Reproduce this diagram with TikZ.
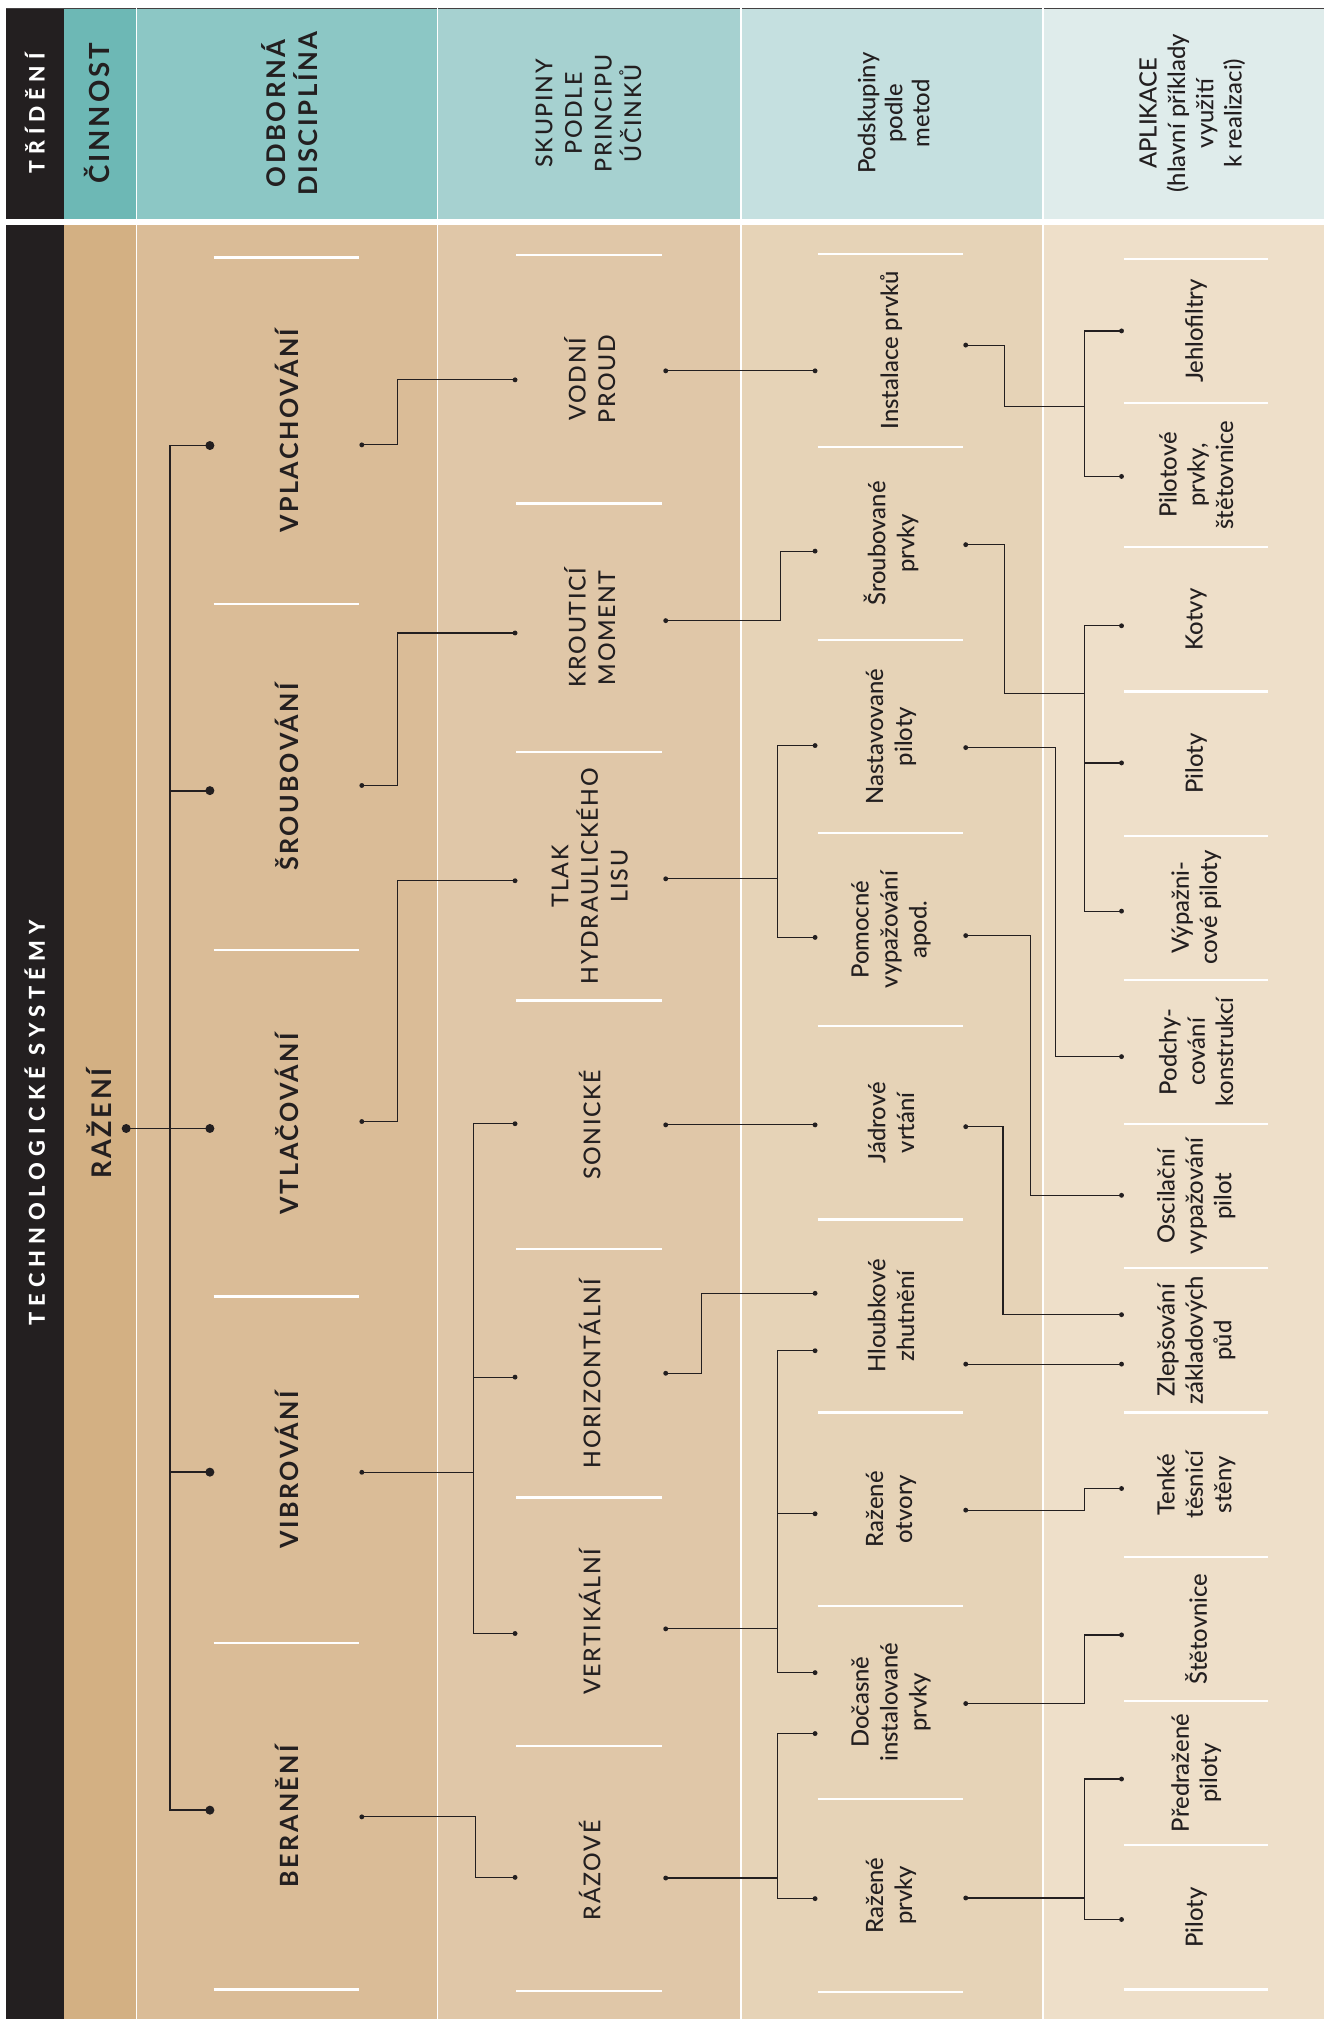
\documentclass[tikz,border=0pt]{standalone}
\usepackage{fontspec}
\setmainfont{Lato Medium}[BoldFont={Lato Bold}]
\newfontfamily\latotrack{Lato Medium}[BoldFont={Lato Bold}, LetterSpace=7]
\newfontfamily\latobold{Lato Bold}[LetterSpace=10]
\newfontfamily\latowide{Lato Heavy}[LetterSpace=28]
\usepackage{xcolor}
\definecolor{ink}{HTML}{231F20}
\definecolor{hcA}{HTML}{6DB8B5}
\definecolor{hcB}{HTML}{8CC7C5}
\definecolor{hcC}{HTML}{A6D1D0}
\definecolor{hcD}{HTML}{C5E0E0}
\definecolor{hcE}{HTML}{DFECEB}
\definecolor{bcA}{HTML}{D3B083}
\definecolor{bcB}{HTML}{DABC97}
\definecolor{bcC}{HTML}{E0C7A8}
\definecolor{bcD}{HTML}{E6D3B7}
\definecolor{bcE}{HTML}{EEDFC9}
\usepackage{tikz}

\begin{document}
\begin{tikzpicture}[
  x = 1pt, y = -1pt,
  lbl/.style     = {rotate=90, align=center, inner sep=0pt, text=ink},
  sidetxt/.style = {lbl, text=white, font=\latowide\fontsize{16.5}{20}\selectfont},
  acttxt/.style  = {lbl, font=\latobold\fontsize{21.5}{26}\selectfont},
  disctxt/.style = {lbl, font=\latobold\fontsize{19.5}{25}\selectfont},
  grptxt/.style  = {lbl, font=\latotrack\fontsize{18}{23}\selectfont},
  subtxt/.style  = {lbl, font=\fontsize{18.5}{22.5}\selectfont},
  apptxt/.style  = {lbl, font=\fontsize{18.5}{22}\selectfont},
  dotS/.style    = {circle, fill=ink, inner sep=0pt, minimum size=3.8pt},
  dotL/.style    = {circle, fill=ink, inner sep=0pt, minimum size=7pt},
  conn/.style    = {draw=ink, line width=0.9pt},
  trunk/.style   = {draw=ink, line width=1.4pt},
  sepline/.style = {white, line width=1.8pt},
  colsep/.style  = {white, line width=0.9pt},
]
\useasboundingbox (0,0) rectangle (1028,1568);
\fill[white] (0,0) rectangle (1028,1568);

% columns: header and body
\fill[ink] (5,6) rectangle (49.5,1568);
\fill[hcA] (49.5,6) rectangle (106,170);   \fill[bcA] (49.5,175) rectangle (106,1568);
\fill[hcB] (106,6) rectangle (340,170);    \fill[bcB] (106,175) rectangle (340,1568);
\fill[hcC] (340,6) rectangle (575.5,170);  \fill[bcC] (340,175) rectangle (575.5,1568);
\fill[hcD] (575.5,6) rectangle (810,170);  \fill[bcD] (575.5,175) rectangle (810,1568);
\fill[hcE] (810,6) rectangle (1028,170);   \fill[bcE] (810,175) rectangle (1028,1568);
\draw[ink!85, line width=1.2pt] (5,6.5) -- (1028,6.5);
\fill[white] (5,170) rectangle (1028,175);
\draw[colsep] (106,6) -- (106,1568);   \draw[colsep] (340,6) -- (340,1568);
\draw[colsep] (575.5,6) -- (575.5,1568); \draw[colsep] (810,6) -- (810,1568);

% separators between items
\draw[sepline] (166,200) -- (279,200);   \draw[sepline] (166,469) -- (279,469);
\draw[sepline] (166,738) -- (279,738);   \draw[sepline] (166,1007) -- (279,1007);
\draw[sepline] (166,1276) -- (279,1276); \draw[sepline] (166,1545) -- (279,1545);
\draw[sepline] (401,198) -- (514,198);   \draw[sepline] (401,391) -- (514,391);
\draw[sepline] (401,584) -- (514,584);   \draw[sepline] (401,777) -- (514,777);
\draw[sepline] (401,970) -- (514,970);   \draw[sepline] (401,1163) -- (514,1163);
\draw[sepline] (401,1356) -- (514,1356); \draw[sepline] (401,1546) -- (514,1546);
\draw[sepline] (635,197) -- (748,197);   \draw[sepline] (635,347) -- (748,347);
\draw[sepline] (635,497) -- (748,497);   \draw[sepline] (635,647) -- (748,647);
\draw[sepline] (635,797) -- (748,797);   \draw[sepline] (635,947) -- (748,947);
\draw[sepline] (635,1097) -- (748,1097); \draw[sepline] (635,1247) -- (748,1247);
\draw[sepline] (635,1397) -- (748,1397); \draw[sepline] (635,1547) -- (748,1547);
\draw[sepline] (873,201) -- (985,201);   \draw[sepline] (873,313) -- (985,313);
\draw[sepline] (873,425) -- (985,425);   \draw[sepline] (873,537) -- (985,537);
\draw[sepline] (873,649) -- (985,649);   \draw[sepline] (873,761) -- (985,761);
\draw[sepline] (873,873) -- (985,873);   \draw[sepline] (873,985) -- (985,985);
\draw[sepline] (873,1097) -- (985,1097); \draw[sepline] (873,1209) -- (985,1209);
\draw[sepline] (873,1321) -- (985,1321); \draw[sepline] (873,1433) -- (985,1433);
\draw[sepline] (873,1545) -- (985,1545);

% header row
\node[sidetxt] (hTrideni) at (27,88) {TŘÍDĚNÍ};
\node[acttxt]  (hCinnost) at (75.5,88) {ČINNOST};
\node[disctxt, font=\latobold\fontsize{20}{25}\selectfont] (hDisc) at (225,88) {ODBORNÁ\\DISCIPLÍNA};
\node[grptxt]  (hSkup) at (457,88) {SKUPINY\\PODLE\\PRINCIPU\\ÚČINKŮ};
\node[subtxt, font=\fontsize{18.5}{21}\selectfont] (hPodsk) at (694,88) {Podskupiny\\podle\\metod};
\node[apptxt]  (hApl) at (926,88) {APLIKACE\\(hlavní příklady\\využití\\k realizaci)};

% activity and disciplines
\node[sidetxt, font=\latowide\fontsize{17}{20}\selectfont] (sys) at (27,872) {TECHNOLOGICKÉ SYSTÉMY};
\node[acttxt, font=\latobold\fontsize{21}{26}\selectfont] (razeni) at (77,872.5) {RAŽENÍ};
\node[disctxt] (vplach) at (223,334.5)  {VPLACHOVÁNÍ};
\node[disctxt] (sroub)  at (223,603.5)  {ŠROUBOVÁNÍ};
\node[disctxt] (vtlac)  at (223,872.5)  {VTLAČOVÁNÍ};
\node[disctxt] (vibro)  at (223,1141.5) {VIBROVÁNÍ};
\node[disctxt] (beran)  at (223,1410.5) {BERANĚNÍ};

% groups
\node[grptxt] (vodni)  at (458,294.5)  {VODNÍ\\PROUD};
\node[grptxt] (krout)  at (458,487.5)  {KROUTICÍ\\MOMENT};
\node[grptxt] (tlak)   at (458,680.5)  {TLAK\\HYDRAULICKÉHO\\LISU};
\node[grptxt] (sonic)  at (458,873.5)  {SONICKÉ};
\node[grptxt] (horiz)  at (458,1066.5) {HORIZONTÁLNÍ};
\node[grptxt] (vertik) at (458,1259.5) {VERTIKÁLNÍ};
\node[grptxt] (razove) at (458,1452.5) {RÁZOVÉ};

% subgroups
\node[subtxt] (instal)  at (692,272)  {Instalace prvků};
\node[subtxt] (sroubpr) at (692,422)  {Šroubované\\prvky};
\node[subtxt] (nastav)  at (692,572)  {Nastavované\\piloty};
\node[subtxt] (pomoc)   at (692,722)  {Pomocné\\vypažování\\apod.};
\node[subtxt] (jadro)   at (692,872)  {Jádrové\\vrtání};
\node[subtxt] (hloub)   at (692,1022) {Hloubkové\\zhutnění};
\node[subtxt] (razot)   at (692,1172) {Ražené\\otvory};
\node[subtxt] (docas)   at (692,1322) {Dočasně\\instalované\\prvky};
\node[subtxt] (razpr)   at (692,1472) {Ražené\\prvky};

% applications
\node[apptxt] (jehlo)  at (929,257)  {Jehlofiltry};
\node[apptxt] (pilst)  at (929,369)  {Pilotové\\prvky,\\štětovnice};
\node[apptxt] (kotvy)  at (929,481)  {Kotvy};
\node[apptxt] (pilA)   at (929,593)  {Piloty};
\node[apptxt] (vypaz)  at (929,705)  {Výpažni-\\cové piloty};
\node[apptxt] (podchy) at (929,817)  {Podchy-\\cování\\konstrukcí};
\node[apptxt] (oscil)  at (929,929)  {Oscilační\\vypažování\\pilot};
\node[apptxt] (zleps)  at (929,1041) {Zlepšování\\základových\\půd};
\node[apptxt] (tenke)  at (929,1153) {Tenké\\těsnicí\\stěny};
\node[apptxt] (stet)   at (929,1265) {Štětovnice};
\node[apptxt] (predr)  at (929,1377) {Předražené\\piloty};
\node[apptxt] (pilB)   at (929,1489) {Piloty};

% connection points
\node[dotL] (dRaz)    at (98,876.4) {};
\node[dotL] (dVplach) at (163,346) {};
\node[dotL] (dSroub)  at (163,614) {};
\node[dotL] (dVtlac)  at (163,876.4) {};
\node[dotL] (dVibro)  at (163,1143.3) {};
\node[dotL] (dBeran)  at (163,1405.8) {};
\node[dotS] (oVplach) at (281,345.5) {};
\node[dotS] (oSroub)  at (281,610) {};
\node[dotS] (oVtlac)  at (281,871) {};
\node[dotS] (oVibro)  at (281,1143.4) {};
\node[dotS] (oBeran)  at (281,1411) {};
\node[dotS] (iVodni)  at (400,295) {};
\node[dotS] (iKrout)  at (400,491.6) {};
\node[dotS] (iTlak)   at (400,684) {};
\node[dotS] (iSonic)  at (400,872.7) {};
\node[dotS] (iHoriz)  at (400,1069.5) {};
\node[dotS] (iVertik) at (400,1268.6) {};
\node[dotS] (iRazove) at (400,1458) {};
\node[dotS] (oVodni)  at (517,288) {};
\node[dotS] (oKrout)  at (517,482) {};
\node[dotS] (oTlak)   at (517,682.5) {};
\node[dotS] (oSonic)  at (517,873.6) {};
\node[dotS] (oHoriz)  at (517,1066.5) {};
\node[dotS] (oVertik) at (517,1265) {};
\node[dotS] (oRazove) at (517,1458.5) {};
\node[dotS] (iInstal)  at (633,288) {};
\node[dotS] (iSroubpr) at (633,428) {};
\node[dotS] (iNastav)  at (633,579) {};
\node[dotS] (iPomoc)   at (633,728) {};
\node[dotS] (iJadro)   at (633,873.6) {};
\node[dotS] (iHloubA)  at (633,1004.4) {};
\node[dotS] (iHloubB)  at (633,1049) {};
\node[dotS] (iRazot)   at (633,1175.6) {};
\node[dotS] (iDocasA)  at (633,1299) {};
\node[dotS] (iDocasB)  at (633,1346.3) {};
\node[dotS] (iRazpr)   at (633,1474.5) {};
\node[dotS] (oInstal)  at (750,268) {};
\node[dotS] (oSroubpr) at (750,423) {};
\node[dotS] (oNastav)  at (750,580.6) {};
\node[dotS] (oPomoc)   at (750,726.6) {};
\node[dotS] (oJadro)   at (750,875) {};
\node[dotS] (oHloub)   at (750,1059.4) {};
\node[dotS] (oRazot)   at (750,1172.8) {};
\node[dotS] (oDocas)   at (750,1323) {};
\node[dotS] (oRazpr)   at (750,1474) {};
\node[dotS] (aJehlo)  at (871,257) {};
\node[dotS] (aPilst)  at (871,370) {};
\node[dotS] (aKotvy)  at (871,486) {};
\node[dotS] (aPilA)   at (871,592.5) {};
\node[dotS] (aVypaz)  at (871,707.6) {};
\node[dotS] (aPodchy) at (871,820.6) {};
\node[dotS] (aOscil)  at (871,928.3) {};
\node[dotS] (aZlepsA) at (871,1021) {};
\node[dotS] (aZlepsB) at (871,1059.4) {};
\node[dotS] (aTenke)  at (871,1156) {};
\node[dotS] (aStet)   at (871,1269.7) {};
\node[dotS] (aPredr)  at (871,1381.6) {};
\node[dotS] (aPilB)   at (871,1490.7) {};
\coordinate (jInstal)  at (842,315.8);
\coordinate (jSroubpr) at (842,538.7);

% activity -> disciplines
\draw[trunk] (dRaz.center) -- (dVtlac.center);
\draw[trunk] (dVplach.center) -- ++(-31,0) |- (dBeran.center);
\draw[trunk] (dSroub.center) -- ++(-31,0);
\draw[trunk] (dVibro.center) -- ++(-31,0);

% disciplines -> groups
\draw[conn] (oVplach.center) -- ++(28,0) |- (iVodni.center);
\draw[conn] (oSroub.center) -- ++(28,0) |- (iKrout.center);
\draw[conn] (oVtlac.center) -- ++(28,0) |- (iTlak.center);
\draw[conn] (oVibro.center) -- ++(87,0);
\draw[conn] (iSonic.center) -- ++(-32,0) |- (iVertik.center);
\draw[conn] (iHoriz.center) -- ++(-32,0);
\draw[conn] (oBeran.center) -- ++(88,0) |- (iRazove.center);

% groups -> subgroups
\draw[conn] (oVodni.center) -- (iInstal.center);
\draw[conn] (oKrout.center) -- ++(89,0) |- (iSroubpr.center);
\draw[conn] (oTlak.center) -- ++(87,0);
\draw[conn] (iNastav.center) -- ++(-29,0) |- (iPomoc.center);
\draw[conn] (oSonic.center) -- (iJadro.center);
\draw[conn] (oHoriz.center) -- ++(28,0) |- (iHloubA.center);
\draw[conn] (oVertik.center) -- ++(87,0);
\draw[conn] (iHloubB.center) -- ++(-29,0) |- (iDocasA.center);
\draw[conn] (iRazot.center) -- ++(-29,0);
\draw[conn] (oRazove.center) -- ++(87,0);
\draw[conn] (iDocasB.center) -- ++(-29,0) |- (iRazpr.center);

% subgroups -> applications
\draw[conn] (oInstal.center) -- ++(30,0) |- (jInstal);
\draw[conn] (aJehlo.center) -- ++(-29,0) |- (aPilst.center);
\draw[conn] (oSroubpr.center) -- ++(30,0) |- (jSroubpr);
\draw[conn] (aKotvy.center) -- ++(-29,0) |- (aVypaz.center);
\draw[conn] (aPilA.center) -- ++(-29,0);
\draw[conn] (oNastav.center) -- ++(70,0) |- (aPodchy.center);
\draw[conn] (oPomoc.center) -- ++(50,0) |- (aOscil.center);
\draw[conn] (oJadro.center) -- ++(29,0) |- (aZlepsA.center);
\draw[conn] (oHloub.center) -- (aZlepsB.center);
\draw[conn] (oRazot.center) -- ++(92.5,0) |- (aTenke.center);
\draw[conn] (oDocas.center) -- ++(92,0) |- (aStet.center);
\draw[conn] (oRazpr.center) -- ++(92,0);
\draw[conn] (aPredr.center) -- ++(-29,0) |- (aPilB.center);
\end{tikzpicture}
\end{document}
